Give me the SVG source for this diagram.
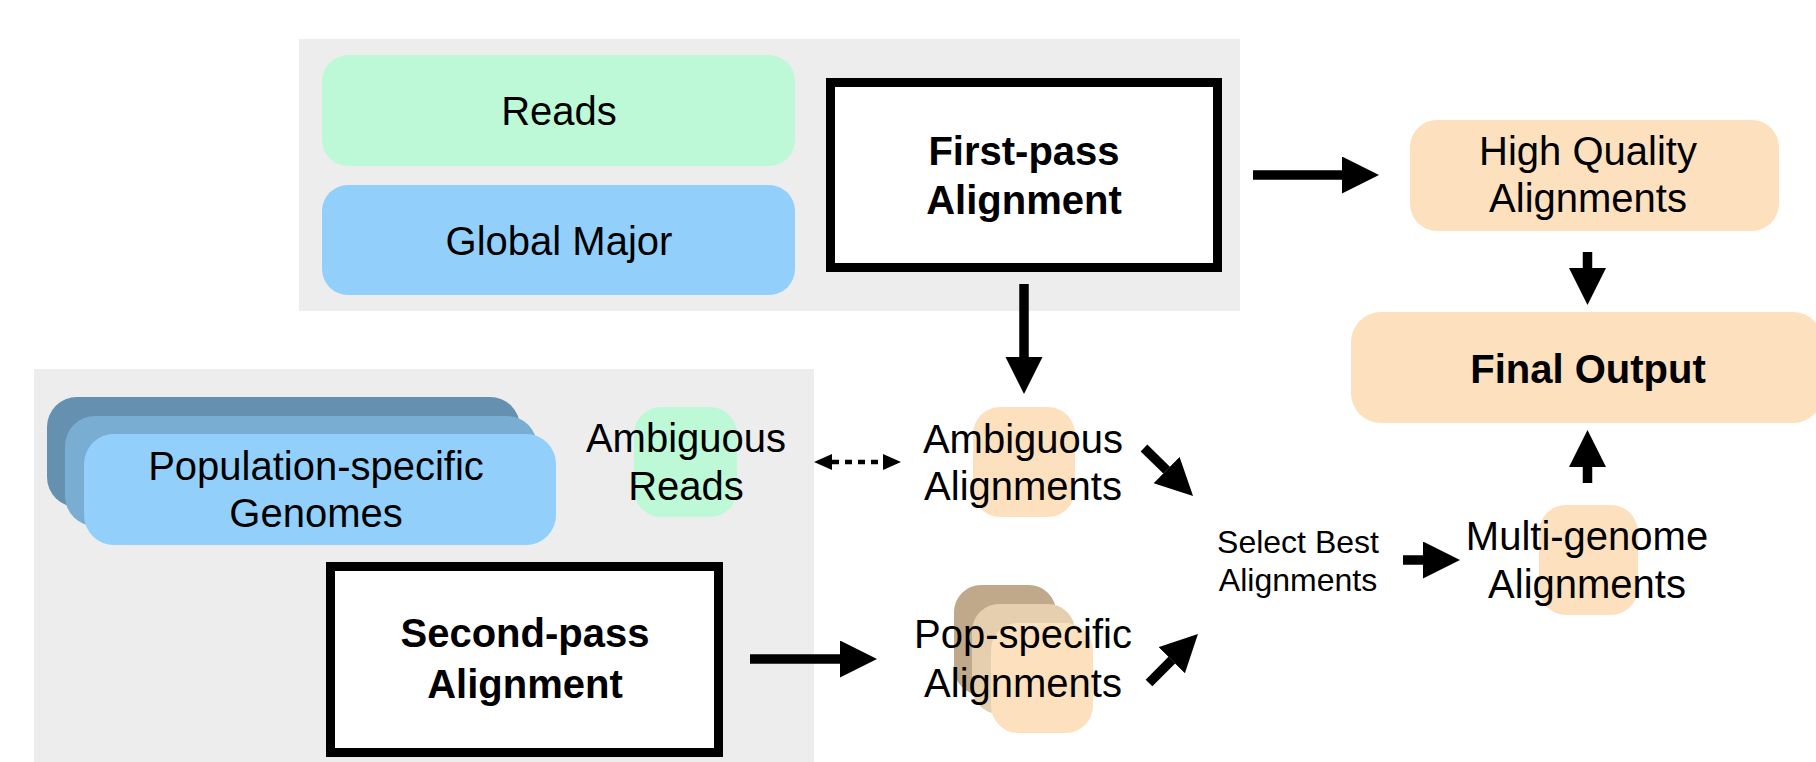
<svg xmlns="http://www.w3.org/2000/svg" width="1816" height="762" viewBox="0 0 1816 762">
<defs>
<style>
text{font-family:"Liberation Sans",Arial,sans-serif;fill:#000;text-anchor:middle}
.t{font-size:40px}
.b{font-size:40px;font-weight:bold}
.s{font-size:32px}
.panel{fill:#ededed}
.green{fill:#bdf9d6}
.blue{fill:#92d0fb}
.orange{fill:#fde1bf}
.box{fill:#fff;stroke:#000;stroke-width:9}
.arr{stroke:#000;stroke-width:9.5;fill:none;marker-end:url(#head)}
.dot{stroke:#000;stroke-width:4.5;fill:none;stroke-dasharray:7 6;marker-start:url(#small);marker-end:url(#small)}
</style>
<marker id="head" markerUnits="userSpaceOnUse" markerWidth="38" markerHeight="38" refX="0" refY="18.5" orient="auto" viewBox="0 0 38 38">
<path d="M0,0 L37,18.5 L0,37 Z" fill="#000"/>
</marker>
<marker id="small" markerUnits="userSpaceOnUse" markerWidth="19" markerHeight="17" refX="0" refY="8" orient="auto-start-reverse" viewBox="0 0 19 17">
<path d="M0,0 L18,8 L0,16 Z" fill="#000"/>
</marker>
</defs>
<rect width="1816" height="762" fill="#fff"/>
<g id="panel-first">
<rect class="panel" x="299" y="39" width="941" height="272"/>
</g>
<g id="panel-second">
<rect class="panel" x="34" y="369" width="780" height="400"/>
</g>
<g id="reads">
<rect class="green" x="322" y="55" width="473" height="111" rx="26"/>
<text class="t" x="559" y="125">Reads</text>
</g>
<g id="global-major">
<rect class="blue" x="322" y="185" width="473" height="110" rx="26"/>
<text class="t" x="559" y="255">Global Major</text>
</g>
<g id="first-pass">
<rect class="box" x="830.5" y="82.5" width="387" height="185"/>
<text class="b" x="1024" y="165">First-pass</text>
<text class="b" x="1024" y="214">Alignment</text>
</g>
<g id="high-quality">
<rect class="orange" x="1410" y="120" width="369" height="111" rx="27"/>
<text class="t" x="1588" y="165">High Quality</text>
<text class="t" x="1588" y="212">Alignments</text>
</g>
<g id="final-output">
<rect class="orange" x="1351" y="312" width="472" height="111" rx="30"/>
<text class="b" x="1588" y="383">Final Output</text>
</g>
<g id="genomes">
<rect x="47" y="397" width="473" height="110" rx="30" fill="#6690b0"/>
<rect x="65" y="416" width="472" height="110" rx="30" fill="#7aadd2"/>
<rect class="blue" x="84" y="434" width="472" height="111" rx="30"/>
<text class="t" x="316" y="480">Population-specific</text>
<text class="t" x="316" y="527">Genomes</text>
</g>
<g id="ambiguous-reads">
<rect class="green" x="634" y="407" width="103" height="110" rx="27"/>
<text class="t" x="686" y="452">Ambiguous</text>
<text class="t" x="686" y="500">Reads</text>
</g>
<g id="ambiguous-alignments">
<rect class="orange" x="973" y="407" width="102" height="110" rx="27"/>
<text class="t" x="1023" y="453">Ambiguous</text>
<text class="t" x="1023" y="500">Alignments</text>
</g>
<g id="second-pass">
<rect class="box" x="330.5" y="566.5" width="388" height="186"/>
<text class="b" x="525" y="647">Second-pass</text>
<text class="b" x="525" y="698">Alignment</text>
</g>
<g id="pop-specific">
<rect x="954" y="585" width="102" height="110" rx="27" fill="#c0a88a"/>
<rect x="972" y="604" width="103" height="110" rx="27" fill="#e6cfae"/>
<rect class="orange" x="991" y="623" width="102" height="110" rx="27"/>
<text class="t" x="1023" y="648">Pop-specific</text>
<text class="t" x="1023" y="697">Alignments</text>
</g>
<g id="select-best">
<text class="s" x="1298" y="553">Select Best</text>
<text class="s" x="1298" y="591">Alignments</text>
</g>
<g id="multi-genome">
<rect class="orange" x="1539" y="505" width="99" height="110" rx="27"/>
<text class="t" x="1587" y="550">Multi-genome</text>
<text class="t" x="1587" y="598">Alignments</text>
</g>
<g id="connectors">
<line class="arr" x1="1253" y1="175" x2="1342" y2="175"/>
<line class="arr" x1="1024" y1="284" x2="1024" y2="357"/>
<line class="arr" x1="1587.5" y1="252" x2="1587.5" y2="268"/>
<line class="arr" x1="1587.5" y1="483" x2="1587.5" y2="467"/>
<line class="arr" x1="750" y1="659" x2="840" y2="659"/>
<line class="arr" x1="1403" y1="560" x2="1423" y2="560"/>
<line class="arr" x1="1144" y1="448" x2="1166.6" y2="470.1"/>
<line class="arr" x1="1149" y1="683" x2="1171.8" y2="660.2"/>
<line class="dot" x1="832" y1="462" x2="883" y2="462"/>
</g>
</svg>
